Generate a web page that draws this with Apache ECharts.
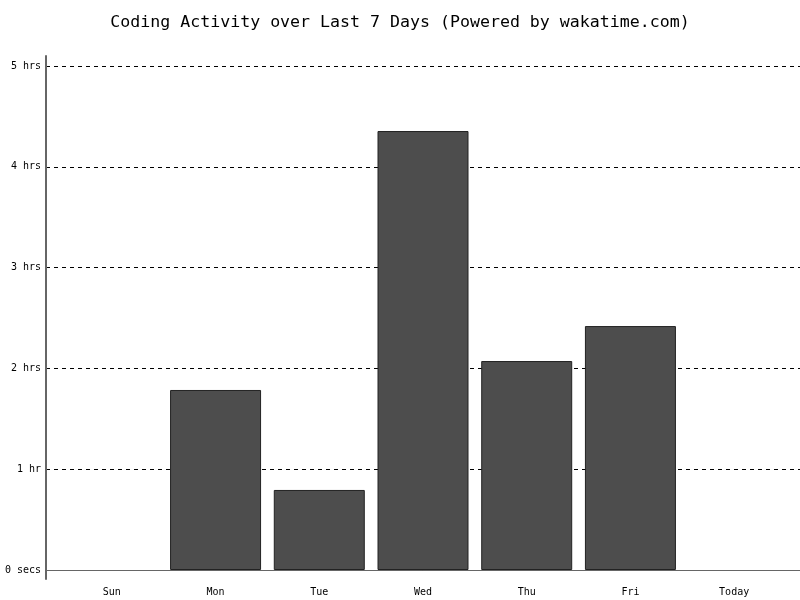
<!DOCTYPE html>
<html><head><meta charset="utf-8">
<script src="https://cdn.jsdelivr.net/npm/echarts@6/dist/echarts.min.js"></script>
<style>html,body{margin:0;padding:0;background:#fff}#c{width:800px;height:600px}</style>
</head><body><div id="c"></div>
<script>
var categories = ['Sun','Mon','Tue','Wed','Thu','Fri','Today'];
var hours = [0, 1.786, 0.794, 4.355, 2.073, 2.42, 0];
var yTickLabels = ['0 secs','1 hr','2 hrs','3 hrs','4 hrs','5 hrs'];

var chart = echarts.init(document.getElementById('c'), null, {renderer:'canvas'});
var mono = 'DejaVu Sans Mono';
var barData = hours.map(function(v){
  return v > 0 ? v : {value:v, itemStyle:{borderWidth:0, opacity:0}};
});
chart.setOption({
  backgroundColor:'#fff',
  animation:false,
  title:{text:'Coding Activity over Last 7 Days (Powered by wakatime.com)',left:'center',top:9,
    textStyle:{fontFamily:mono,fontSize:16.6,fontWeight:'normal',color:'#000'}},
  grid:[
    {left:46,right:0,top:66,bottom:30,containLabel:false},
    {left:60,right:14,top:66,bottom:30,containLabel:false},
    {left:46,right:0,top:56,bottom:21,containLabel:false}
  ],
  xAxis:[
    {gridIndex:0,type:'value',min:0,max:1,axisLine:{show:true,lineStyle:{color:'#666',width:1}},axisTick:{show:false},axisLabel:{show:false},splitLine:{show:false}},
    {gridIndex:1,type:'category',data:categories,axisLine:{show:false},axisTick:{show:false},
      axisLabel:{fontFamily:mono,fontSize:10,color:'#000',margin:17}},
    {gridIndex:2,type:'value',show:false}
  ],
  yAxis:[
    {gridIndex:0,type:'value',min:0,max:5,interval:1,axisLine:{show:false},axisTick:{show:false},
      axisLabel:{fontFamily:mono,fontSize:10,color:'#000',margin:5,formatter:function(v){return yTickLabels[Math.round(v)];}},
      splitLine:{show:true,lineStyle:{color:'#000',type:[4,4],width:1}}},
    {gridIndex:1,type:'value',min:0,max:5,show:false},
    {gridIndex:2,type:'value',min:0,max:1,axisLine:{show:true,lineStyle:{color:'#666',width:2}},axisTick:{show:false},axisLabel:{show:false},splitLine:{show:false}}
  ],
  series:[{
    type:'bar',xAxisIndex:1,yAxisIndex:1,data:barData,barWidth:91,
    itemStyle:{color:'#4d4d4d',borderColor:'#222',borderWidth:1}
  }]
});
</script></body></html>
